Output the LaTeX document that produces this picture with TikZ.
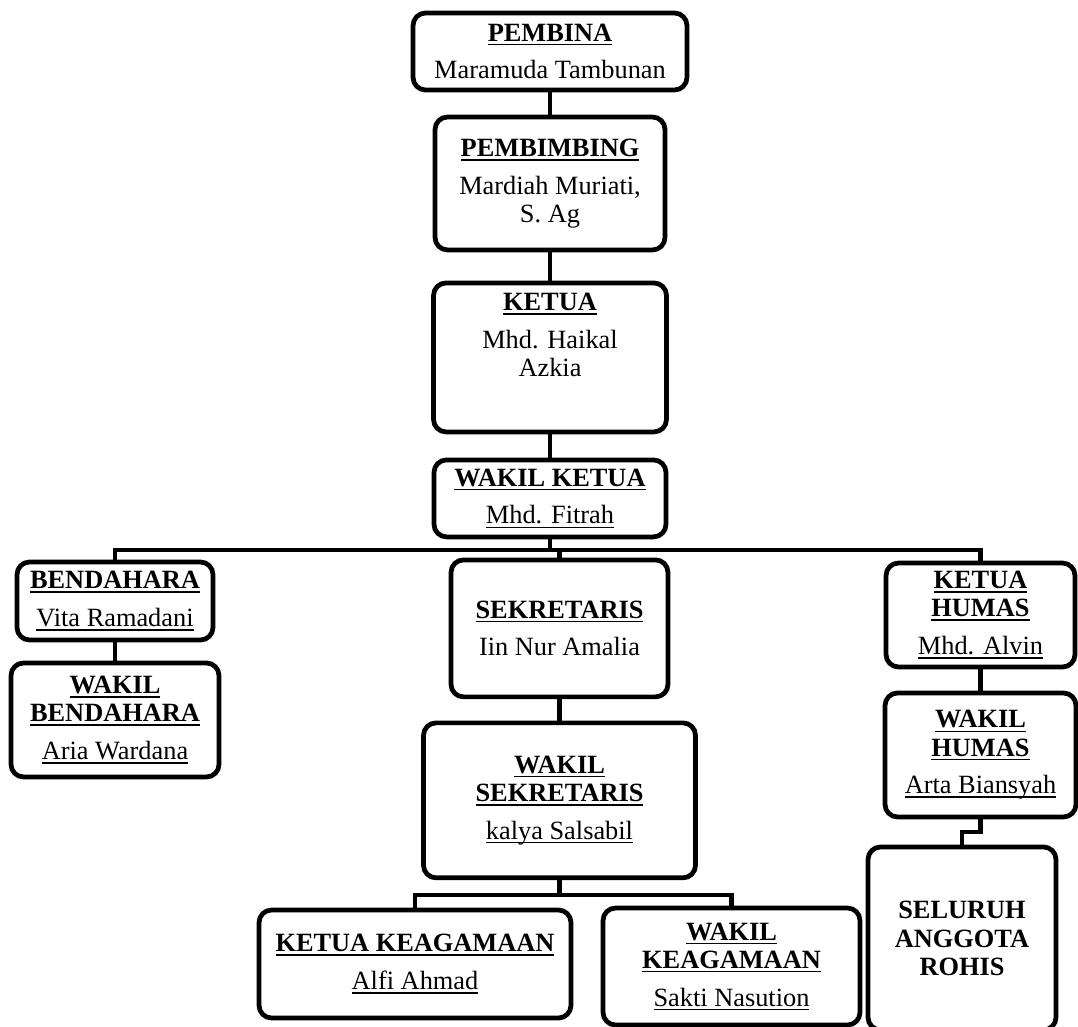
\documentclass[tikz,border=0pt]{standalone}
\usepackage{fontspec}
\setmainfont{Liberation Serif}
\usetikzlibrary{positioning}

\newsavebox{\garisbox}
\newcommand{\garis}[1]{\sbox{\garisbox}{#1}\rlap{\rule[-2.4pt]{\wd\garisbox}{0.9pt}}\usebox{\garisbox}}
\newcommand{\jab}[1]{\garis{\textbf{#1}}}

\begin{document}
\begin{tikzpicture}[x=0.02cm,y=-0.02cm,
    post/.style={draw,line width=2.7pt,rounded corners=0.25cm,align=center,inner sep=2pt,outer sep=0pt,
      font=\fontsize{15}{16}\selectfont},
    link/.style={line width=2.6pt}]
   \useasboundingbox (0,0) rectangle (1078,1027);

   \node[post,minimum width=5.48cm,minimum height=1.54cm] (pembina) at (550,51.5) {\jab{PEMBINA}\\[5.5pt]Maramuda Tambunan};
   \node[post,minimum width=4.6cm,minimum height=2.66cm,below=0.54cm of pembina] (pembimbing) {\jab{PEMBIMBING}\\[5.5pt]Mardiah Muriati,\\S. Ag};
   \node[post,minimum width=4.66cm,minimum height=2.98cm,text depth=0.9cm,below=0.66cm of pembimbing] (ketua) {\jab{KETUA}\\[5.5pt]Mhd. Haikal\\Azkia};
   \node[post,minimum width=4.64cm,minimum height=1.54cm,below=0.56cm of ketua] (wketua) {\jab{WAKIL KETUA}\\[5.5pt]\garis{Mhd. Fitrah}};
   \node[post,minimum width=4.34cm,minimum height=2.74cm,below=0.46cm of wketua,xshift=0.19cm] (sekre) {\jab{SEKRETARIS}\\[5.5pt]Iin Nur Amalia};
   \node[post,minimum width=5.44cm,minimum height=3.1cm,below=0.52cm of sekre] (wsekre) {\jab{WAKIL}\\\jab{SEKRETARIS}\\[5.5pt]\garis{kalya Salsabil}};
   \node[post,minimum width=3.92cm,minimum height=1.56cm] (bendahara) at (115,601) {\jab{BENDAHARA}\\[5.5pt]\garis{Vita Ramadani}};
   \node[post,minimum width=4.16cm,minimum height=2.28cm,below=0.46cm of bendahara] (wbendahara) {\jab{WAKIL}\\\jab{BENDAHARA}\\[5.5pt]\garis{Aria Wardana}};
   \node[post,minimum width=3.78cm,minimum height=2.08cm] (humas) at (980.5,615) {\jab{KETUA}\\\jab{HUMAS}\\[5.5pt]\garis{Mhd. Alvin}};
   \node[post,minimum width=3.82cm,minimum height=2.48cm,below=0.52cm of humas] (whumas) {\jab{WAKIL}\\\jab{HUMAS}\\[5.5pt]\garis{Arta Biansyah}};
   \node[post,minimum width=3.76cm,minimum height=3.66cm,below=0.6cm of whumas,xshift=-0.37cm] (anggota) {\textbf{SELURUH}\\\textbf{ANGGOTA}\\\textbf{ROHIS}};
   \node[post,minimum width=6.24cm,minimum height=2.16cm] (kkeag) at (415,964) {\jab{KETUA KEAGAMAAN}\\[5.5pt]\garis{Alfi Ahmad}};
   \node[post,minimum width=5.14cm,minimum height=2.34cm] (wkeag) at (731.5,966.5) {\jab{WAKIL}\\\jab{KEAGAMAAN}\\[5.5pt]\garis{Sakti Nasution}};

   \draw[link] (pembina) -- (pembimbing);
   \draw[link] (pembimbing) -- (ketua);
   \draw[link] (ketua) -- (wketua);
   \draw[link] (wketua.south) -- ++(0,13) coordinate (split);
   \draw[link] (bendahara.north) |- (split) -| (humas.north);
   \draw[link] (split) -| (sekre.north);
   \draw[link] (bendahara) -- (wbendahara);
   \draw[link] (sekre) -- (wsekre);
   \draw[link] (wsekre.south) -- ++(0,17) coordinate (split2);
   \draw[link] (kkeag.north) |- (split2) -| (wkeag.north);
   \draw[link] (humas) -- (whumas);
   \draw[link] (whumas.south) -- ++(0,15) -| (anggota.north);

\end{tikzpicture}
\end{document}
